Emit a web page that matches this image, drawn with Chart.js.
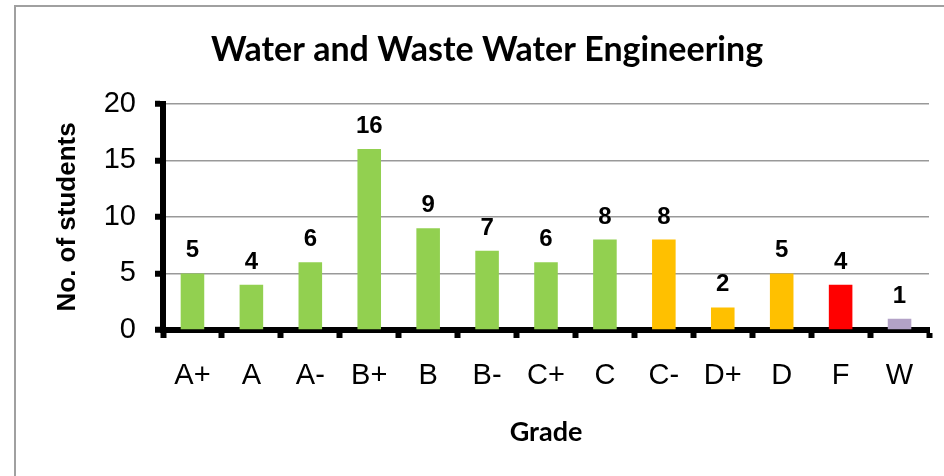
<!DOCTYPE html>
<html>
<head>
<meta charset="utf-8">
<script src="https://cdn.jsdelivr.net/npm/chart.js@4.4.1/dist/chart.umd.min.js"></script>
<style>
  html, body { margin: 0; padding: 0; background: #fff; }
  #wrap { width: 944px; height: 476px; position: relative; }
</style>
</head>
<body>
<div id="wrap"><canvas id="chart-grades" width="944" height="476"></canvas></div>
<script>
// grades and student counts
const grades = ["A+", "A", "A-", "B+", "B", "B-", "C+", "C", "C-", "D+", "D", "F", "W"];
const students = [5, 4, 6, 16, 9, 7, 6, 8, 8, 2, 5, 4, 1];
const barColors = [
  "#92D050", "#92D050", "#92D050", "#92D050", "#92D050", "#92D050", "#92D050", "#92D050",
  "#FFC000", "#FFC000", "#FFC000", "#FF0000", "#B3A2C7"
];
const yTicks = [0, 5, 10, 15, 20];

// frame round the chart
const framePlugin = {
  id: "frame",
  beforeDraw(chart) {
    const ctx = chart.ctx;
    ctx.save();
    ctx.fillStyle = "#fff";
    ctx.fillRect(0, 0, chart.width, chart.height);
    ctx.strokeStyle = "#a0a0a0";
    ctx.lineWidth = 2;
    ctx.strokeRect(15, 6, 1200, 1200);
    ctx.restore();
  },
};

// value labels above the bars
const valueLabels = {
  id: "valueLabels",
  afterDatasetsDraw(chart) {
    const ctx = chart.ctx;
    const meta = chart.getDatasetMeta(0);
    ctx.save();
    ctx.font = "bold 24px 'Liberation Sans', Arial, sans-serif";
    ctx.fillStyle = "#000";
    ctx.textAlign = "center";
    ctx.textBaseline = "alphabetic";
    meta.data.forEach((bar, i) => {
      ctx.fillText(String(students[i]), bar.x, bar.y - 16);
    });
    ctx.restore();
  },
};

const ctx = document.getElementById("chart-grades").getContext("2d");
new Chart(ctx, {
  type: "bar",
  data: {
    labels: grades,
    datasets: [
      {
        label: "No. of students",
        data: students,
        backgroundColor: barColors,
        borderWidth: 0,
        barPercentage: 0.4,
        categoryPercentage: 1,
      },
    ],
  },
  options: {
    responsive: false,
    animation: false,
    layout: { padding: { left: 45, right: 15, top: 0, bottom: 0 } },
    plugins: {
      legend: { display: false },
      tooltip: { enabled: false },
      title: {
        display: true,
        text: "Water and Waste Water Engineering",
        color: "#000",
        font: { family: "Lato", weight: "bold", size: 34 },
        padding: { top: 30, bottom: 33 },
      },
    },
    scales: {
      x: {
        afterFit(scale) { scale.height = 146; },
        grid: {
          offset: true,
          drawOnChartArea: false,
          tickLength: 8,
          tickWidth: 6,
          tickColor: "#000",
        },
        border: { display: true, color: "#000", width: 6 },
        ticks: {
          color: "#000",
          padding: 21,
          font: { family: "'Liberation Sans', Arial, sans-serif", size: 29 },
        },
        title: {
          display: true,
          text: "Grade",
          color: "#000",
          font: { family: "Lato", weight: "bold", size: 27 },
          padding: { top: 0, bottom: 28 },
        },
      },
      y: {
        min: 0,
        max: 20,
        afterFit(scale) { scale.width = 118; },
        afterBuildTicks(scale) { scale.ticks = yTicks.map((v) => ({ value: v })); },
        grid: {
          color: "#999",
          lineWidth: 1.5,
          tickLength: 8,
          tickWidth: 6,
          tickColor: "#000",
        },
        border: { display: true, color: "#000", width: 6 },
        ticks: {
          color: "#000",
          padding: 19,
          font: { family: "'Liberation Sans', Arial, sans-serif", size: 29 },
        },
        title: {
          display: true,
          text: "No. of students",
          color: "#000",
          font: { family: "'Liberation Sans', Arial, sans-serif", weight: "bold", size: 26 },
          padding: { top: 7, bottom: 0 },
        },
      },
    },
  },
  plugins: [framePlugin, valueLabels],
});
</script>
</body>
</html>
